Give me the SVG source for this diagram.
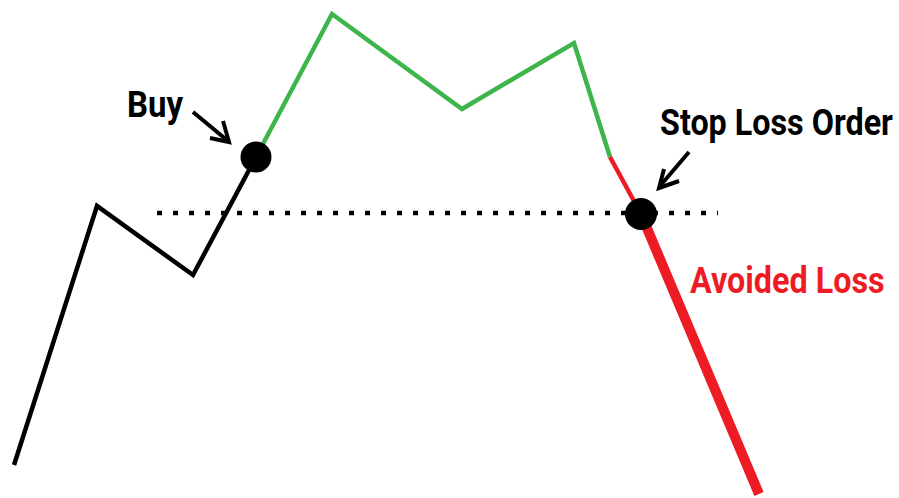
<svg xmlns="http://www.w3.org/2000/svg" width="899" height="498" viewBox="0 0 899 498">
<style>
.lbl{font-family:Roboto,"Liberation Sans",sans-serif;font-weight:bold;font-size:37px}
.arr{fill:none;stroke:#000;stroke-width:4;stroke-linecap:butt;stroke-linejoin:miter}
</style>
<rect width="899" height="498" fill="#fff"/>
<g id="connectors">
<line x1="157" y1="213" x2="718" y2="213" stroke="#000" stroke-width="4.5" stroke-dasharray="5 11"/>
<polyline points="14,465 97,206 193,275 256,157" fill="none" stroke="#000" stroke-width="4.5" stroke-linejoin="miter"/>
<polyline points="256,157 332,14 462,109 574,43 610,157" fill="none" stroke="#3db54a" stroke-width="4.5" stroke-linejoin="miter"/>
<line x1="610" y1="157" x2="641" y2="214" stroke="#ed1c24" stroke-width="4.5"/>
<line x1="641" y1="214" x2="759" y2="494" stroke="#ed1c24" stroke-width="10"/>
<g id="buy-arrow">
<line class="arr" x1="193" y1="112" x2="228" y2="141"/>
<polyline class="arr" points="223,121 229,142 210,138"/>
</g>
<g id="stop-arrow">
<line class="arr" x1="689" y1="152" x2="660" y2="186"/>
<polyline class="arr" points="664,169 659,188 679,181"/>
</g>
</g>
<g id="buy-node">
<circle cx="256" cy="157" r="15.5" fill="#000"/>
<text class="lbl" transform="translate(127,117) scale(0.85,1)" textLength="66" lengthAdjust="spacingAndGlyphs">Buy</text>
</g>
<g id="stop-node">
<circle cx="641" cy="214" r="16" fill="#000"/>
<text class="lbl" transform="translate(660,135) scale(0.85,1)" textLength="274" lengthAdjust="spacingAndGlyphs">Stop Loss Order</text>
</g>
<g id="avoided-loss">
<text class="lbl" transform="translate(690,293) scale(0.85,1)" fill="#ed1c24" textLength="229" lengthAdjust="spacingAndGlyphs">Avoided Loss</text>
</g>
</svg>
